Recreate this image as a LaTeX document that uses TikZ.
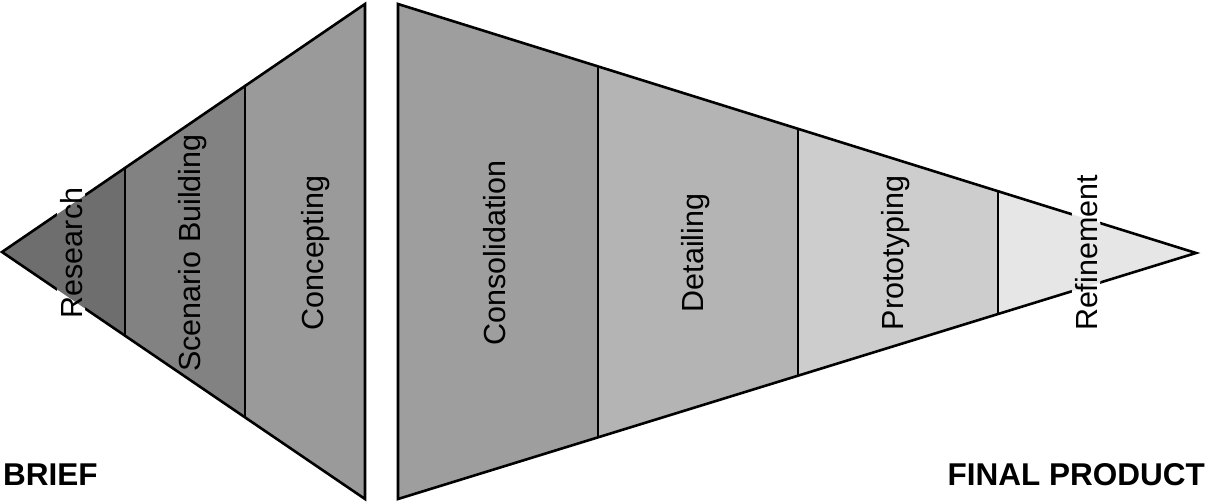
\documentclass[tikz,border=0pt]{standalone}
\usepackage{fontspec}
\setmainfont{Liberation Sans}
\definecolor{cRes}{HTML}{6E6E6E}
\definecolor{cSce}{HTML}{828282}
\definecolor{cCon}{HTML}{9A9A9A}
\definecolor{cCns}{HTML}{9E9E9E}
\definecolor{cDet}{HTML}{B4B4B4}
\definecolor{cPro}{HTML}{CDCDCD}
\definecolor{cRef}{HTML}{E6E6E6}
\tikzset{
  edge/.style={draw=black, line width=2.6pt, line join=miter},
  phase/.style={rotate=90, anchor=base, inner sep=0pt, outer sep=0pt,
    font=\fontsize{30.5}{32}\selectfont},
  halo/.style={inner sep=3pt, fill=white,
    path picture={\fill[#1] (LA) -- (LT) -- (LB) -- cycle;
                  \fill[#1] (RT) -- (RA) -- (RB) -- cycle;}},
  endlabel/.style={inner sep=0pt, font=\fontsize{31.5}{33}\selectfont\bfseries}
}
\begin{document}
\begin{tikzpicture}[x=1pt,y=-1pt]
\useasboundingbox (0,0) rectangle (1207,502);
% corner coordinates
\coordinate (LA) at (2,252);
\coordinate (LT) at (365,4);
\coordinate (LB) at (365,499);
\coordinate (RT) at (398,4);
\coordinate (RB) at (398,499);
\coordinate (RA) at (1196,253);
% left triangle fills
\begin{scope}
  \clip (LA) -- (LT) -- (LB) -- cycle;
  \fill[cRes] (0,0) rectangle (125,502);
  \fill[cSce] (125,0) rectangle (245,502);
  \fill[cCon] (245,0) rectangle (366,502);
  \draw[edge] (125,0) -- (125,502);
  \draw[edge] (245,0) -- (245,502);
\end{scope}
\draw[edge] (LA) -- (LT) -- (LB) -- cycle;
% right triangle fills
\begin{scope}
  \clip (RT) -- (RA) -- (RB) -- cycle;
  \fill[cCns] (397,0) rectangle (598,502);
  \fill[cDet] (598,0) rectangle (798,502);
  \fill[cPro] (798,0) rectangle (998,502);
  \fill[cRef] (998,0) rectangle (1207,502);
  \draw[edge] (598,0) -- (598,502);
  \draw[edge] (798,0) -- (798,502);
  \draw[edge] (998,0) -- (998,502);
\end{scope}
\draw[edge] (RT) -- (RA) -- (RB) -- cycle;
% phase labels
\node[phase, halo=cRes] (res) at (82,253) {Research};
\node[phase] (sce) at (200,253) {Scenario Building};
\node[phase] (con) at (323,253) {Concepting};
\node[phase] (cns) at (505,253) {Consolidation};
\node[phase] (det) at (703,253) {Detailing};
\node[phase] (pro) at (903,253) {Prototyping};
\node[phase, halo=cRef] (ref) at (1097,253) {Refinement};
% end labels
\node[endlabel, anchor=base west] (brief) at (3,485) {BRIEF};
\node[endlabel, anchor=base east] (final) at (1205,485) {FINAL PRODUCT};
\end{tikzpicture}
\end{document}
